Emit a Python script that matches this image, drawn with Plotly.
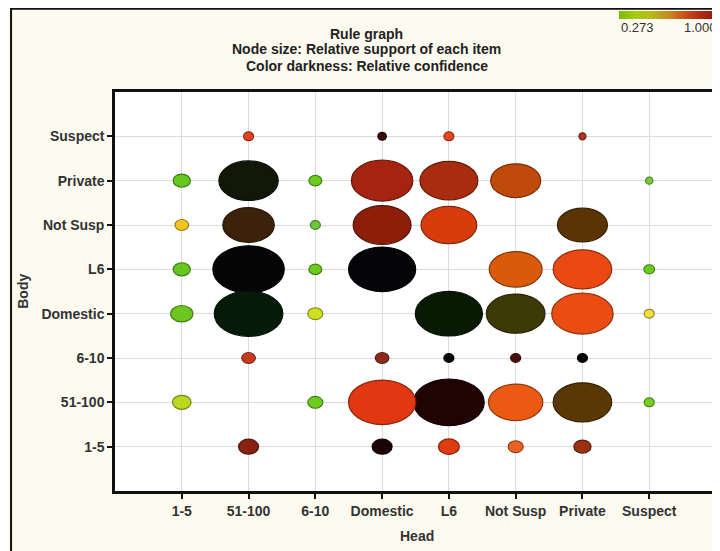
import plotly.graph_objects as go

# ---------------- data ----------------
categories = ["1-5", "51-100", "6-10", "Domestic", "L6", "Not Susp", "Private", "Suspect"]

rule_head = [
    "51-100", "Domestic", "L6", "Private",
    "1-5", "51-100", "6-10", "Domestic", "L6", "Not Susp", "Suspect",
    "1-5", "51-100", "6-10", "Domestic", "L6", "Private",
    "1-5", "51-100", "6-10", "Domestic", "Not Susp", "Private", "Suspect",
    "1-5", "51-100", "6-10", "L6", "Not Susp", "Private", "Suspect",
    "51-100", "Domestic", "L6", "Not Susp", "Private",
    "1-5", "6-10", "Domestic", "L6", "Not Susp", "Private", "Suspect",
    "51-100", "Domestic", "L6", "Not Susp", "Private",
]
rule_body = (
    ["Suspect"] * 4 + ["Private"] * 7 + ["Not Susp"] * 6 + ["L6"] * 7
    + ["Domestic"] * 7 + ["6-10"] * 5 + ["51-100"] * 7 + ["1-5"] * 5
)
support = [
    0.14, 0.12, 0.14, 0.10,
    0.24, 0.83, 0.18, 0.86, 0.81, 0.70, 0.10,
    0.19, 0.72, 0.14, 0.81, 0.78, 0.70,
    0.24, 1.00, 0.18, 0.94, 0.74, 0.82, 0.15,
    0.31, 0.96, 0.21, 0.94, 0.82, 0.86, 0.14,
    0.19, 0.19, 0.14, 0.14, 0.14,
    0.26, 0.21, 0.94, 0.99, 0.76, 0.82, 0.14,
    0.28, 0.28, 0.29, 0.21, 0.24,
]
fill_colors = [
    "#e2431f", "#3a0808", "#e8461e", "#b23424",
    "#66c81e", "#121808", "#6ccc1e", "#a52410", "#a82c10", "#c04a0c", "#7acc3a",
    "#f2c41e", "#3c220a", "#6cc83a", "#8c1e0a", "#d83c0c", "#5a3404",
    "#66c81e", "#050505", "#6ccc1e", "#050508", "#d85a0a", "#ea4a12", "#6ccc1e",
    "#6cc820", "#061a0a", "#d2e022", "#081a04", "#3e3a08", "#ea4c12", "#f0e040",
    "#c43c22", "#8c2a1a", "#080202", "#4a1008", "#050202",
    "#bcd820", "#6ccc1e", "#e23812", "#200404", "#ea5a12", "#5a3804", "#78d020",
    "#8a2212", "#1a0404", "#e03c12", "#ea6222", "#9a3212",
]
conf_min, conf_max = 0.273, 1.000
title_lines = ["Rule graph",
               "Node size: Relative support of each item",
               "Color darkness: Relative confidence"]

# ---------------- layout constants ----------------
OFF = 8                      # page margin around the figure
XS = 720 / 730               # observed horizontal screen scale of the page
W, H = 730 - OFF, 551 - OFF

def fx(p):  # screen px -> figure px (horizontal)
    return p / XS - OFF

def fy(p):  # screen px -> figure px (vertical)
    return p - OFF

ML = round(fx(113))
MR = W - round(fx(719))
MT = round(fy(92))
MB = H - round(fy(491))
PW, PH = W - ML - MR, H - MT - MB
X_RANGE = [-1, len(categories)]
Y_RANGE = [-1, len(categories)]
px_x = PW / (X_RANGE[1] - X_RANGE[0])
px_y = PH / (Y_RANGE[1] - Y_RANGE[0])
MAX_W = 72 / XS  # figure-pixel width of the largest node

FONT = "Liberation Sans, Arial, sans-serif"

def darken(hx, f=0.62):
    hx = hx.lstrip("#")
    r, g, b = (int(hx[i:i + 2], 16) for i in (0, 2, 4))
    return "#%02x%02x%02x" % (int(r * f), int(g * f), int(b * f))

def sx(p):  # screen px -> paper x
    return (fx(p) - ML) / PW

def sy(p):  # screen px -> paper y
    return (H - MB - fy(p)) / PH

idx = {c: i for i, c in enumerate(categories)}
xs = [idx[h] for h in rule_head]
ys = [idx[b] for b in rule_body]

shapes = [
    dict(type="line", xref="paper", yref="paper", layer="below",
         x0=(0 - ML) / PW, x1=(W + 30 - ML) / PW, y0=sy(8.8), y1=sy(8.8),
         line=dict(color="#111111", width=2)),
    dict(type="line", xref="paper", yref="paper", layer="below",
         x0=(0.8 - ML) / PW, x1=(0.8 - ML) / PW, y0=sy(H + 30), y1=sy(8),
         line=dict(color="#111111", width=2)),
    dict(type="line", xref="paper", yref="paper", layer="above",
         x0=1, x1=1, y0=0, y1=1, line=dict(color="#888888", width=1)),
]

order = sorted(range(len(support)), key=lambda i: -support[i])
for i in order:
    w_scr = support[i] * 72
    h = 0.62 * w_scr + 2.5
    dx = support[i] * MAX_W / 2 / px_x
    dy = h / 2 / px_y
    shapes.append(dict(type="circle", xref="x", yref="y", layer="above",
                       x0=xs[i] - dx, x1=xs[i] + dx, y0=ys[i] - dy, y1=ys[i] + dy,
                       fillcolor=fill_colors[i],
                       line=dict(color=darken(fill_colors[i]), width=1.2)))

fig = go.Figure()
fig.add_trace(go.Scatter(
    x=xs, y=ys, mode="markers",
    marker=dict(size=10, opacity=0),
    text=[f"{b} → {h}<br>support: {s:.2f}" for b, h, s in zip(rule_body, rule_head, support)],
    hoverinfo="text", showlegend=False))

fig.add_trace(go.Scatter(
    x=[None], y=[None], mode="markers", showlegend=False, hoverinfo="skip",
    marker=dict(color=[conf_min, conf_max], cmin=conf_min, cmax=conf_max,
                colorscale=[[0, "#78c000"], [0.15, "#a6cc10"], [0.3, "#b8b818"],
                            [0.45, "#c88a20"], [0.6, "#c8501c"], [0.75, "#b02810"],
                            [0.9, "#8a1a0a"], [1, "#6a1008"]],
                showscale=True,
                colorbar=dict(orientation="h", thickness=8, len=110, lenmode="pixels",
                              x=sx(621), xanchor="left", xpad=0,
                              y=sy(11), yanchor="top", ypad=0,
                              outlinewidth=0, showticklabels=False, ticks=""))))

axis_common = dict(
    tickmode="array", tickvals=list(range(len(categories))), ticktext=categories,
    showgrid=True, gridcolor="#dcdcdc", gridwidth=1, zeroline=False,
    showline=True, linecolor="#111111", linewidth=2.5,
    ticks="outside", ticklen=5, tickwidth=2, tickcolor="#111111",
    tickfont=dict(family=FONT, size=14, color="#333333", weight="bold"),
    fixedrange=True,
)

bold14 = dict(family=FONT, size=14, color="#222222", weight="bold")
annotations = []
for line, ypx in zip(title_lines, [34, 49.5, 66]):
    annotations.append(dict(text=line, xref="paper", yref="paper", x=sx(367), y=sy(ypx),
                            xanchor="center", yanchor="middle", showarrow=False, font=bold14))
annotations += [
    dict(text="Head", xref="paper", yref="paper", x=sx(418), y=sy(536),
         xanchor="center", yanchor="middle", showarrow=False,
         font=dict(family=FONT, size=14, color="#333333", weight="bold")),
    dict(text="Body", xref="paper", yref="paper", x=sx(20), y=0.5, textangle=-90,
         xanchor="center", yanchor="middle", showarrow=False,
         font=dict(family=FONT, size=14, color="#333333", weight="bold")),
    dict(text="0.273", xref="paper", yref="paper", x=sx(640), y=sy(27),
         xanchor="center", yanchor="middle", showarrow=False,
         font=dict(family=FONT, size=13, color="#333333")),
    dict(text="1.000", xref="paper", yref="paper", x=sx(703), y=sy(27),
         xanchor="center", yanchor="middle", showarrow=False,
         font=dict(family=FONT, size=13, color="#333333")),
]

fig.update_layout(
    width=W, height=H,
    margin=dict(l=ML, r=MR, t=MT, b=MB),
    paper_bgcolor="#fdfaef", plot_bgcolor="white",
    xaxis=dict(range=X_RANGE, mirror=True, **axis_common),
    yaxis=dict(range=Y_RANGE, mirror=False, **axis_common),
    shapes=shapes, annotations=annotations,
    showlegend=False,
)

fig.write_html("out.html")
